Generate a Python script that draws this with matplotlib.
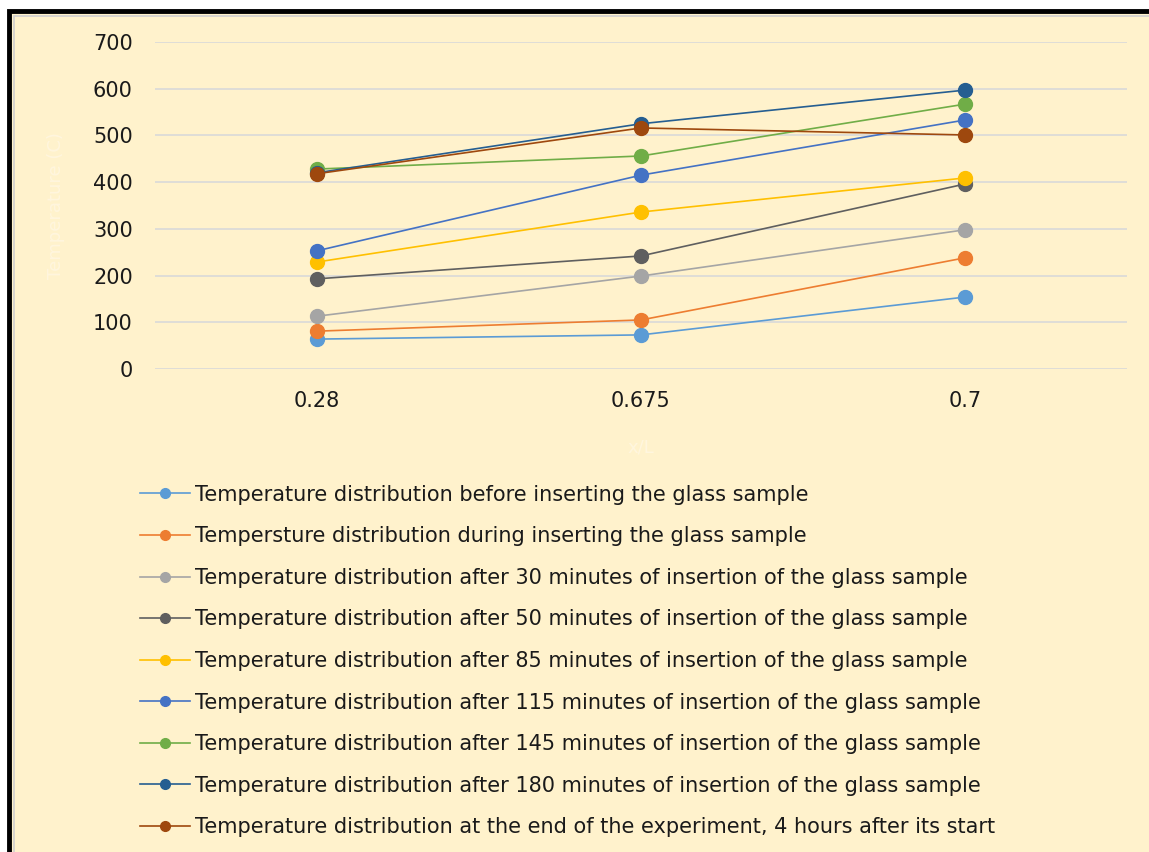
import matplotlib
matplotlib.use("Agg")
import matplotlib.pyplot as plt
from matplotlib.patches import Rectangle

categories = ["0.28", "0.675", "0.7"]
labels = [
    "Temperature distribution before inserting the glass sample",
    "Tempersture distribution during inserting the glass sample",
    "Temperature distribution after 30 minutes of insertion of the glass sample",
    "Temperature distribution after 50 minutes of insertion of the glass sample",
    "Temperature distribution after 85 minutes of insertion of the glass sample",
    "Temperature distribution after 115 minutes of insertion of the glass sample",
    "Temperature distribution after 145 minutes of insertion of the glass sample",
    "Temperature distribution after 180 minutes of insertion of the glass sample",
    "Temperature distribution at the end of the experiment, 4 hours after its start",
]
before = [64, 73, 154]
during = [81, 105, 238]
after30 = [113, 199, 298]
after50 = [193, 242, 396]
after85 = [229, 336, 409]
after115 = [253, 415, 533]
after145 = [428, 456, 567]
after180 = [420, 525, 597]
end4h = [418, 516, 501]
series = [before, during, after30, after50, after85, after115, after145, after180, end4h]
colors = ["#5B9BD5", "#ED7D31", "#A5A5A5", "#5F5F5F", "#FFC000",
          "#4472C4", "#70AD47", "#255E91", "#9E480E"]
yticks = [0, 100, 200, 300, 400, 500, 600, 700]

W, H = 1149, 852
fig = plt.figure(figsize=(W / 100, H / 100), dpi=100, facecolor="white")
bg = "#FFF2CC"
fig.patches.append(Rectangle((9 / W, -0.05), 1.2, 1.05 - 11 / H, transform=fig.transFigure,
                             facecolor=bg, edgecolor="black", linewidth=3.5, zorder=-2))
fig.patches.append(Rectangle((14 / W, -0.05), 1.2, 1.05 - 16 / H, transform=fig.transFigure,
                             facecolor="none", edgecolor="#CFCFCF", linewidth=1.2, zorder=-1))

ax = fig.add_axes([155 / W, 1 - 369 / H, 972 / W, 327 / H])
ax.set_zorder(2)
ax.set_facecolor("none")
xs = list(range(len(categories)))
for s, c, lab in zip(series, colors, labels):
    ax.plot(xs, s, color=c, lw=1.2, marker="o", markersize=10, label=lab, zorder=3)

ax.set_xlim(-0.5, len(categories) - 0.5)
ax.set_ylim(0, 700)
ax.set_yticks(yticks)
ax.set_xticks(xs)
ax.set_xticklabels(categories)
ax.grid(axis="y", color="#D9D9D9", lw=1.2)
ax.set_axisbelow(True)
for sp in ax.spines.values():
    sp.set_visible(False)
ax.tick_params(length=0, labelsize=15, colors="#1a1a1a")
ax.tick_params(axis="y", pad=16)
ax.tick_params(axis="x", pad=16)
ax.set_ylabel("Temperature (C)", color="#FFF6DE", fontsize=13, labelpad=20)
ax.set_xlabel("x/L", color="#FFF6DE", fontsize=13, labelpad=20)

handles, labs = ax.get_legend_handles_labels()
leg = fig.legend(handles, labs, loc="upper left", bbox_to_anchor=(121 / W, 1 - 466 / H),
                 frameon=False, fontsize=15, handlelength=2.4, handletextpad=0.25,
                 labelspacing=1.035, labelcolor="#1a1a1a", markerscale=0.7)
leg.set_zorder(3)

fig.savefig("out.png", dpi=100, facecolor="white")
